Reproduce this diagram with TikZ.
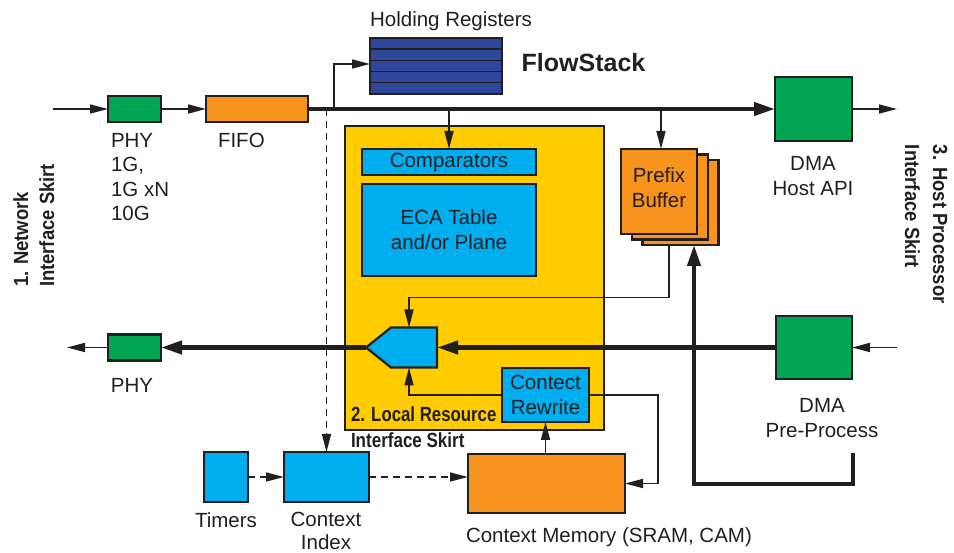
\documentclass[tikz,border=0pt]{standalone}
\usepackage{fontspec}
\usepackage{graphicx}
\setmainfont{Liberation Sans}
\usetikzlibrary{arrows.meta,calc}

\definecolor{ink}{HTML}{231F20}
\definecolor{phygreen}{HTML}{00A651}
\definecolor{fifoorange}{HTML}{F7941D}
\definecolor{cellblue}{HTML}{00AEEF}
\definecolor{skirtyellow}{HTML}{FFCC00}
\definecolor{regblue}{HTML}{2E479C}

% bold text squeezed horizontally (condensed look)
\newcommand\narrowbf[2]{\scalebox{#1}[1]{\bfseries #2}}

\begin{document}
\begin{tikzpicture}[x=1pt,y=-1pt,
  every node/.style={text=ink, inner sep=0pt, outer sep=0pt},
  txt/.style={font=\fontsize{20.5}{25}\selectfont},
  sidefont/.style={font=\fontsize{20.5}{25}\selectfont},
  blk/.style={draw=ink, line width=2.2pt, inner sep=0pt},
  thinarrow/.style={draw=ink, line width=1.6pt, -{Triangle[length=18pt,width=9pt]}},
  dasharrow/.style={thinarrow, dash pattern=on 7pt off 5pt},
  thickarrow/.style={draw=ink, line width=4.2pt, -{Triangle[length=21pt,width=13pt]}},
  thinline/.style={draw=ink, line width=1.6pt}]

\fill[white] (0,0) rectangle (954,553);
\useasboundingbox (0,0) rectangle (954,553);

% ---------- blocks ----------
\node[blk, fill=phygreen, minimum width=53, minimum height=26] (phyin) at (134.5,109) {};
\node[blk, fill=fifoorange, minimum width=102, minimum height=26] (fifo) at (257,109) {};
\node[blk, fill=regblue, minimum width=132, minimum height=56] (hold) at (436,66) {};
\foreach \k in {1,...,4}
  \draw[ink, line width=1.4pt] ($(hold.north west)!\k/5!(hold.south west)$) -- ($(hold.north east)!\k/5!(hold.south east)$);
\node[blk, fill=phygreen, minimum width=77, minimum height=64] (dmahost) at (813.5,109) {};

\node[blk, fill=skirtyellow, minimum width=259, minimum height=304] (skirt) at (474.5,278) {};
\node[blk, fill=cellblue, minimum width=174, minimum height=26, txt] (comp) at (449,162) {Comparators};
\node[blk, fill=cellblue, minimum width=174, minimum height=92, txt, align=center] (eca) at (449,230) {ECA Table\\and/or Plane};

% selector (pentagon pointing left)
\node[minimum width=71, minimum height=40] (mux) at (401.5,347.5) {};
\filldraw[fill=cellblue, draw=ink, line width=2.2pt]
  (mux.west) -- ($(mux.north west)+(25,0)$) -- (mux.north east) -- (mux.south east) -- ($(mux.south west)+(25,0)$) -- cycle;
\coordinate (muxtop) at ($(mux.north west)+(43,0)$);
\coordinate (muxbot) at ($(mux.south west)+(43,0)$);

\node[blk, fill=cellblue, minimum width=87, minimum height=54, txt, align=center] (rewrite) at (545.5,395) {Contect\\Rewrite};
\node[blk, fill=fifoorange, minimum width=157, minimum height=59] (ctxmem) at (546.5,483.5) {};
\node[blk, fill=cellblue, minimum width=44, minimum height=50] (timers) at (226,477) {};
\node[blk, fill=cellblue, minimum width=85, minimum height=50] (ctxidx) at (326.5,477) {};

\node[blk, fill=fifoorange, minimum width=76, minimum height=85] (pf3) at (680.5,202.5) {};
\node[blk, fill=fifoorange, minimum width=76, minimum height=85] (pf2) at (670,197) {};
\node[blk, fill=fifoorange, minimum width=76, minimum height=85] (pf1) at (659,191.5) {};

\node[blk, fill=phygreen, minimum width=53, minimum height=26] (phyout) at (134.5,347.5) {};
\node[blk, fill=phygreen, minimum width=76, minimum height=63] (dmapre) at (814,347.5) {};

% ---------- free ends ----------
\coordinate (netin) at (53,109);
\coordinate (netout) at (67,347.5);
\coordinate (hostout) at (897,109);
\coordinate (hostin) at (897,347.5);
\coordinate (regtap) at (334,109);
\coordinate (preret) at (853,453);

% ---------- connectors ----------
\draw[thinarrow] (netin) -- (phyin.west);
\draw[thinarrow] (phyin.east) -- (fifo.west);
\draw[thickarrow] (fifo.east) -- (dmahost.west);
\draw[thinarrow] (dmahost.east) -- (hostout);
\draw[thinarrow] (regtap) |- ($(hold.west)+(0,-2)$);
\draw[thinarrow] (comp.north |- fifo.east) -- (comp.north);
\draw[thinarrow] ($(pf1.north |- fifo.east)+(2,0)$) -- ($(pf1.north)+(2,0)$);
\draw[dasharrow] (ctxidx.north |- fifo.east) -- (ctxidx.north);

\draw[thinarrow] ($(pf3.south)+(-11.5,0)$) |- ($(muxtop)+(0,-30)$) -- (muxtop);
\draw[thinarrow] (rewrite.west) -| (muxbot);
\draw[thickarrow] (dmapre.west) -- (mux.east);
\draw[thickarrow] (mux.west) -- (phyout.east);
\draw[thinarrow] (phyout.west) -- (netout);
\draw[thinarrow] (hostin) -- (dmapre.east);
\draw[thickarrow] (preret) |- ($(pf3.south)+(13.5,239)$) -- ($(pf3.south)+(13.5,0)$);

\draw[thinarrow] (rewrite.east) -- ++(69,0) |- (ctxmem.east);
\draw[thinarrow] (ctxmem.north -| rewrite.south) -- (rewrite.south);
\draw[dasharrow] (timers.east) -- (ctxidx.west);
\draw[dasharrow] (ctxidx.east) -- (ctxidx.east -| ctxmem.west);

% ---------- labels ----------
\node[txt, anchor=base] (holdlbl) at (451,27) {Holding Registers};
\node[font=\fontsize{25}{30}\selectfont\bfseries, anchor=base] (title) at (583.5,72) {FlowStack};
\node[txt, anchor=north west, align=left, font=\fontsize{20.5}{24.5}\selectfont] (phyinlbl) at (111,133) {PHY\\1G,\\1G xN\\10G};
\node[txt, anchor=base west] (fifolbl) at (218,148) {FIFO};
\node[txt, anchor=north, align=center] (hostlbl) at (813,156) {DMA\\Host API};
\node[txt, anchor=center, align=center] (pflbl) at (659,188) {Prefix\\Buffer};
\node[txt, anchor=base] (phyoutlbl) at (132,393) {PHY};
\node[txt, anchor=north, align=center] (prelbl) at (822,398) {DMA\\Pre-Process};
\node[txt, anchor=base] (timerlbl) at (226,527) {Timers};
\node[txt, anchor=base] (idxlblA) at (326,526) {Context};
\node[txt, anchor=base] (idxlblB) at (326,549) {Index};
\node[txt, anchor=base west] (memlbl) at (466,542) {Context Memory (SRAM, CAM)};

\node[sidefont, anchor=base west] (localA) at (351,422) {\narrowbf{0.82}{2. Local Resource}};
\node[sidefont, anchor=base west] (localB) at (351,447) {\narrowbf{0.83}{Interface Skirt}};

\node[sidefont, anchor=base west, rotate=90] (netA) at (28,287) {\narrowbf{0.9}{1. Network}};
\node[sidefont, anchor=base west, rotate=90] (netB) at (54,287) {\narrowbf{0.9}{Interface Skirt}};

\node[sidefont, anchor=base west, rotate=-90] (hostA) at (933,145) {\narrowbf{0.9}{3. Host Processor}};
\node[sidefont, anchor=base west, rotate=-90] (hostB) at (905,145) {\narrowbf{0.9}{Interface Skirt}};
\end{tikzpicture}
\end{document}
